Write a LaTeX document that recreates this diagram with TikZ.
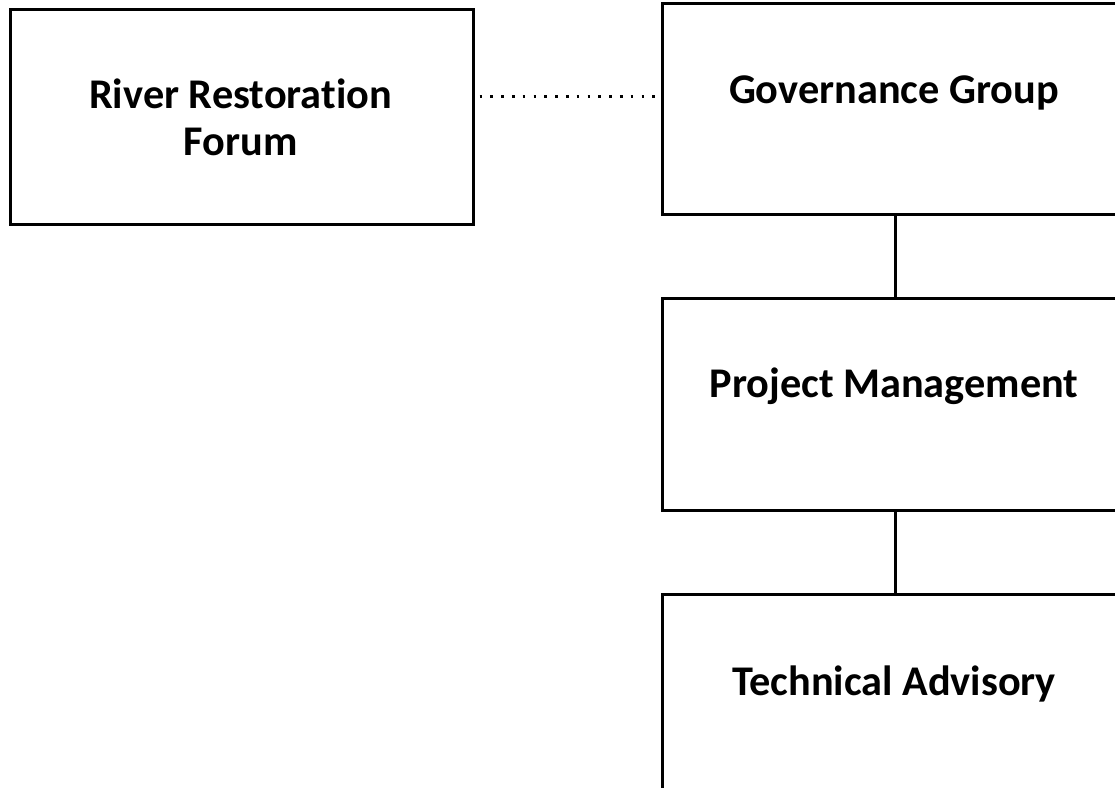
\documentclass[tikz,border=0pt]{standalone}
\usepackage{fontspec}
\setmainfont{Carlito}[Ligatures=NoCommon]
\begin{document}
\begin{tikzpicture}[x=1pt,y=-1pt,
  box/.style={draw=black, line width=2.5pt, anchor=north west, inner sep=0pt},
  lbl/.style={anchor=base, inner sep=0pt, font=\fontsize{42.3pt}{48pt}\selectfont\bfseries},
  conn/.style={draw=black, line width=3pt},
  dotline/.style={draw=black, line width=3pt, dash pattern=on 2.6pt off 8.2pt, dash phase=-5pt}]
\useasboundingbox (0,0) rectangle (1115,787);
\clip (0,0) rectangle (1115,787);
\node[box, minimum width=463pt, minimum height=215pt] (forum) at (9,8) {};
\node[box, minimum width=466pt, minimum height=211pt] (gov) at (661,2) {};
\node[box, minimum width=466pt, minimum height=212pt] (pm) at (661,297) {};
\node[box, minimum width=466pt, minimum height=212pt] (ta) at (661,593) {};
\node[lbl] (forumA) at (240.5,108) {River Restoration};
\node[lbl] (forumB) at (240.5,155) {Forum};
\node[lbl] (govT) at (894,103.5) {Governance Group};
\node[lbl] (pmT) at (894,397.5) {Project Management};
\node[lbl] (taT) at (894,695.5) {Technical Advisory};
\draw[conn] (gov.south) -- (pm.north);
\draw[conn] (pm.south) -- (ta.north);
\draw[dotline] ([yshift=-88pt]forum.north east) -- ([yshift=-94pt]gov.north west);
\end{tikzpicture}
\end{document}
